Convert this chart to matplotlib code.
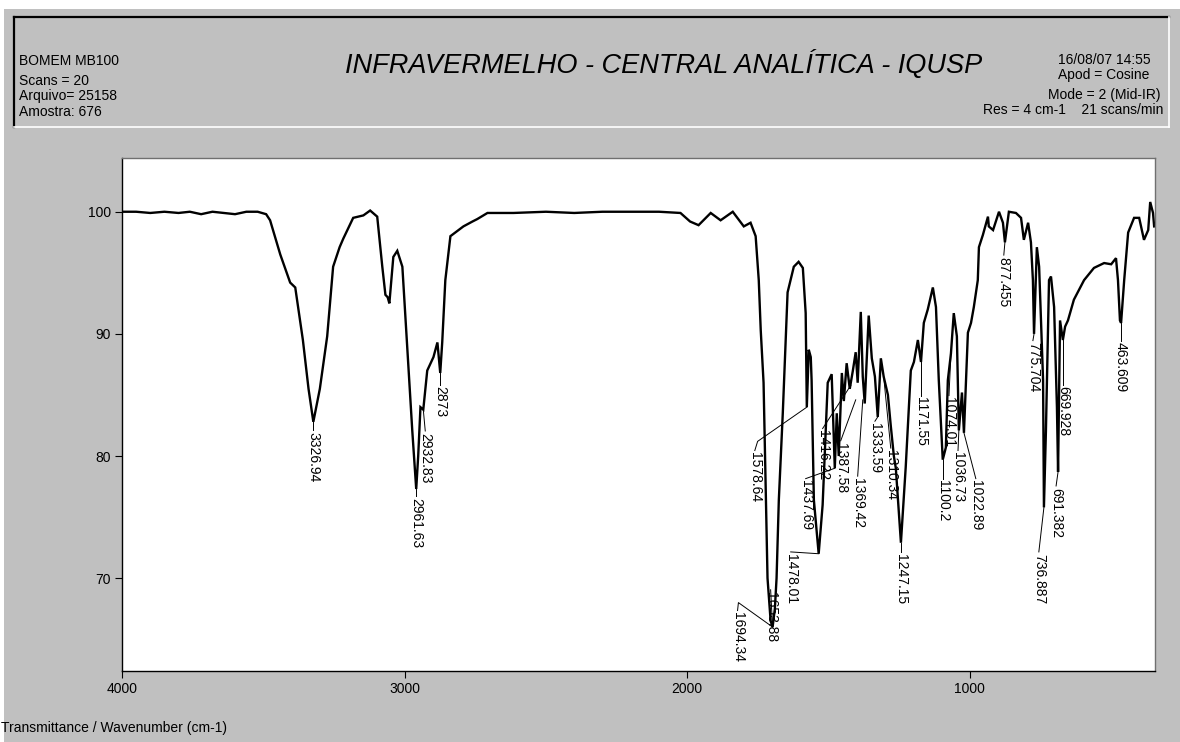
import matplotlib
matplotlib.use("Agg")
import matplotlib.pyplot as plt
from matplotlib.patches import Rectangle
from matplotlib.lines import Line2D

plt.rcParams['font.family'] = ['Liberation Sans', 'DejaVu Sans']

# Spectrum (wavenumber in cm-1, transmittance in %)
wavenumber = [4000, 3950, 3900, 3850, 3800, 3760, 3720, 3680, 3640, 3600, 3560, 3520, 3490,
              3476, 3440, 3405, 3387, 3360, 3340, 3323, 3300, 3274, 3253, 3230, 3217, 3182,
              3146, 3122, 3097, 3079, 3068, 3060, 3054, 3040, 3026, 3008, 2991, 2973, 2959,
              2952, 2944, 2934, 2920, 2898, 2884, 2874, 2867, 2856, 2838, 2792, 2760, 2743,
              2707, 2615, 2500, 2400, 2300, 2200, 2100, 2024, 1990, 1960, 1917, 1882, 1839,
              1800, 1776, 1758, 1747, 1740, 1730, 1716, 1705, 1698, 1690, 1684, 1676, 1662,
              1645, 1623, 1606, 1591, 1581, 1577, 1570, 1563, 1560, 1552, 1535, 1521, 1503,
              1489, 1478, 1471, 1464, 1453, 1446, 1436, 1425, 1414, 1404, 1397, 1386, 1379,
              1372, 1358, 1347, 1336, 1326, 1315, 1305, 1290, 1280, 1269, 1262, 1244, 1227,
              1209, 1198, 1184, 1173, 1163, 1149, 1131, 1120, 1110, 1096, 1085, 1078, 1067,
              1057, 1046, 1039, 1028, 1021, 1007, 996, 986, 972, 968, 954, 936, 933, 918,
              897, 883, 876, 862, 837, 819, 809, 794, 784, 777, 773, 763, 755, 741, 738,
              731, 720, 713, 702, 692, 688, 681, 671, 663, 653, 632, 596, 561, 525, 500,
              483, 476, 469, 465, 454, 440, 419, 401, 384, 369, 362, 352, 348]
transmittance = [100.0, 100.0, 99.9, 100.0, 99.9, 100.0, 99.8, 100.0, 99.9, 99.8, 100.0, 100.0, 99.8,
                 99.3, 96.5, 94.2, 93.8, 89.5, 85.5, 82.8, 85.5, 89.8, 95.5, 97.1, 97.8, 99.5,
                 99.7, 100.1, 99.6, 95.5, 93.2, 93.0, 92.5, 96.3, 96.8, 95.5, 89.0, 82.1, 77.3,
                 80.0, 84.0, 83.8, 87.0, 88.1, 89.3, 86.8, 89.3, 94.4, 98.0, 98.8, 99.2, 99.4,
                 99.9, 99.9, 100.0, 99.9, 100.0, 100.0, 100.0, 99.9, 99.2, 98.9, 99.9, 99.3, 100.0,
                 98.8, 99.1, 98.0, 94.4, 90.3, 86.0, 70.0, 66.5, 66.0, 67.5, 70.0, 76.4, 83.5,
                 93.4, 95.5, 95.9, 95.4, 91.7, 84.0, 88.7, 88.1, 86.2, 76.4, 72.0, 76.0, 86.0,
                 86.7, 79.0, 83.5, 80.0, 86.8, 84.5, 87.6, 85.5, 87.0, 88.5, 86.0, 91.8, 86.5,
                 84.3, 91.5, 88.0, 86.5, 83.2, 88.0, 86.5, 85.0, 82.5, 80.0, 79.0, 72.9, 79.1,
                 87.0, 87.7, 89.5, 87.7, 90.9, 92.0, 93.8, 92.2, 86.2, 79.7, 80.7, 86.2, 88.4,
                 91.7, 89.8, 82.1, 85.2, 81.9, 90.1, 90.9, 92.2, 94.4, 97.1, 98.1, 99.6, 98.8, 98.5,
                 100.0, 99.1, 97.5, 100.0, 99.9, 99.5, 97.7, 99.1, 97.5, 94.4, 90.0, 97.1, 95.5, 86.2, 75.8,
                 82.0, 94.4, 94.7, 92.2, 84.0, 78.7, 91.1, 89.5, 90.6, 91.1, 92.8, 94.4, 95.4, 95.8, 95.7,
                 96.2, 94.4, 91.1, 90.9, 94.4, 98.3, 99.5, 99.5, 97.7, 98.5, 100.8, 99.9, 98.8]

# Peak labels: text, peak position on the curve
peak_text = ['3326.94', '2961.63', '2932.83', '2873', '1578.64', '1694.34', '1653.88',
             '1478.01', '1437.69', '1416.22', '1387.58', '1369.42', '1333.59', '1310.34',
             '1247.15', '1171.55', '1074.01', '1100.2', '1036.73', '1022.89', '877.455',
             '775.704', '736.887', '691.382', '669.928', '463.609']
peak_wn = [3323, 2959, 2934, 2874, 1577, 1698, 1698, 1535, 1478, 1421, 1404, 1379, 1326, 1305,
           1244, 1173, 1067, 1096, 1039, 1021, 876, 773, 738, 688, 671, 465]
peak_t = [82.8, 77.3, 83.8, 86.8, 84.0, 66.0, 66.0, 72.0, 79.0, 85.8, 84.6, 84.6, 83.2, 86.5,
          72.9, 87.7, 88.4, 79.7, 82.1, 81.9, 97.5, 90.0, 75.8, 78.7, 89.5, 90.9]

# where each label's text starts (top of the rotated text) and an optional elbow
text_wn = [3323, 2959, 2927, 2874, 1761, 1822, 1705, 1634, 1581, 1521, 1457, 1397, 1336, 1280,
           1244, 1173, 1074, 1096, 1042, 979, 880, 777, 756, 695, 671, 465]
text_t = [82.0, 76.6, 81.9, 85.7, 80.3, 67.2, 68.9, 72.0, 78.0, 82.1, 81.1, 78.2, 82.7, 80.5,
          72.0, 84.8, 84.8, 78.0, 80.3, 78.0, 96.3, 89.3, 72.0, 77.4, 85.7, 89.3]
elbow = {'1578.64': (1751, 81.2), '1694.34': (1819, 68.0)}

fig = plt.figure(figsize=(11.8, 7.42), dpi=100)
fig.patch.set_facecolor('white')
W, H = 1180.0, 742.0


def fx(px):
    return px / W


def fy(py):
    return 1 - py / H


# grey panel (thin white strip at top and left)
fig.patches.append(Rectangle((fx(4), 0), 1 - fx(4), fy(9), transform=fig.transFigure,
                             facecolor='#c0c0c0', edgecolor='none', zorder=-10))
# header frame: dark top/left, white bottom/right
for (x0, y0, x1, y1, c, lw) in [(14, 17, 1169, 17, 'black', 1.6), (14, 17, 14, 127, 'black', 1.6),
                                (14, 127, 1169, 127, 'white', 1.2), (1169, 17, 1169, 127, 'white', 1.2)]:
    fig.lines.append(Line2D([fx(x0), fx(x1)], [fy(y0), fy(y1)], transform=fig.transFigure,
                            color=c, lw=lw))

left_lines = [('BOMEM MB100', 61), ('Scans = 20', 81), ('Arquivo= 25158', 96), ('Amostra: 676', 112)]
for s, y in left_lines:
    fig.text(fx(19), fy(y), s, fontsize=10, ha='left', va='center')

fig.text(fx(664), fy(64), 'INFRAVERMELHO - CENTRAL ANALÍTICA - IQUSP', fontsize=19.5,
         style='italic', ha='center', va='center')

right_lines = [('16/08/07 14:55', 60), ('Apod = Cosine', 75), ('Mode = 2 (Mid-IR)', 95)]
for s, y in right_lines:
    fig.text(fx(1104), fy(y), s, fontsize=10, ha='center', va='center')
fig.text(fx(983), fy(110), 'Res = 4 cm-1    21 scans/min', fontsize=10, ha='left', va='center')

fig.text(fx(1), fy(728), 'Transmittance / Wavenumber (cm-1)', fontsize=10, ha='left', va='center')

ax = fig.add_axes([fx(122), fy(671), (1155 - 122) / W, (671 - 158) / H])
ax.set_zorder(5)
ax.set_facecolor('white')
ax.plot(wavenumber, transmittance, color='black', lw=1.7, solid_joinstyle='miter')
ax.set_xlim(4000, 345)
ax.set_ylim(62.4, 104.4)
ax.set_xticks([4000, 3000, 2000, 1000])
ax.set_yticks([70, 80, 90, 100])
ax.tick_params(direction='out', length=5, width=0.8, labelsize=10, pad=3)
ax.spines['left'].set_color('black')
ax.spines['bottom'].set_color('black')
ax.spines['top'].set_color('#707070')
ax.spines['right'].set_color('#707070')
for sp in ax.spines.values():
    sp.set_linewidth(1.0)

for i, s in enumerate(peak_text):
    xs = [peak_wn[i]]
    ys = [peak_t[i]]
    if s in elbow:
        xs.append(elbow[s][0])
        ys.append(elbow[s][1])
    xs.append(text_wn[i])
    ys.append(text_t[i] + 0.15)
    ax.plot(xs, ys, color='black', lw=0.7)
    ax.text(text_wn[i], text_t[i], s, rotation=-90, ha='center', va='top', fontsize=10)

fig.savefig('out.png', dpi=100)
